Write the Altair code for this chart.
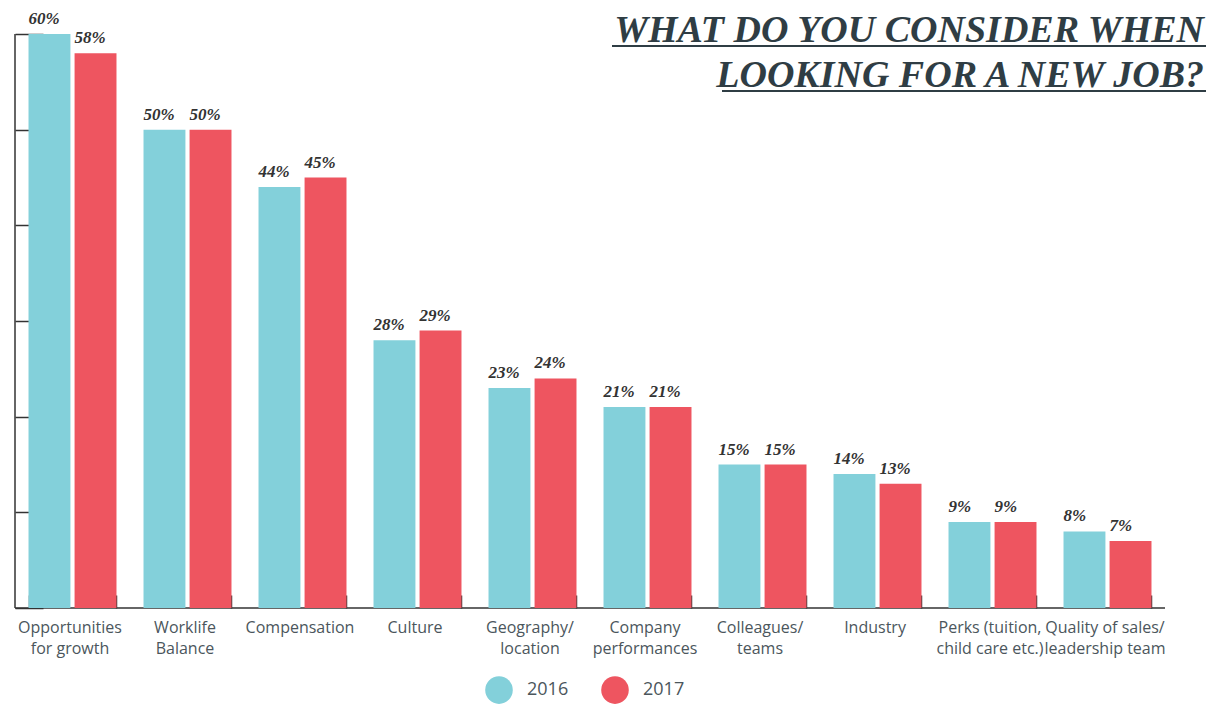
import altair as alt
import pandas as pd

categories = [
    "Opportunities\nfor growth", "Worklife\nBalance", "Compensation", "Culture",
    "Geography/\nlocation", "Company\nperformances", "Colleagues/\nteams",
    "Industry", "Perks (tuition,\nchild care etc.)", "Quality of sales/\nleadership team",
]
years = ["2016", "2017"]
v2016 = [60, 50, 44, 28, 23, 21, 15, 14, 9, 8]
v2017 = [58, 50, 45, 29, 24, 21, 15, 13, 9, 7]
y_ticks = [0, 10, 20, 30, 40, 50, 60]
title_lines = ["WHAT DO YOU CONSIDER WHEN", "LOOKING FOR A NEW JOB?"]

rows = []
for c, a, b in zip(categories, v2016, v2017):
    rows.append({"cat": c, "year": "2016", "value": a, "label": f"{a}%"})
    rows.append({"cat": c, "year": "2017", "value": b, "label": f"{b}%"})
df = pd.DataFrame(rows)

CYAN = "#83d0da"
RED = "#ee5560"
DARK = "#333333"
LABEL = "#4b565c"
TITLE = "#2f3d44"
W, H = 1150, 574

x_enc = alt.X(
    "cat:N", sort=categories,
    scale=alt.Scale(paddingInner=0.235, paddingOuter=0.1175),
    axis=alt.Axis(
        orient="bottom", offset=-13, tickSize=13, tickBand="extent", domain=False,
        labelExpr="split(datum.label, '\\n')", labelFont="Open Sans", labelFontSize=16,
        labelColor=LABEL, labelPadding=11, labelLineHeight=21, labelAngle=0,
        labelOffset=-3,
        tickColor=DARK, tickWidth=1.5, title=None, grid=False, zindex=0,
    ),
)
xo_enc = alt.XOffset("year:N", scale=alt.Scale(paddingInner=0.09))
y_enc = alt.Y(
    "value:Q", scale=alt.Scale(domain=[0, 60], nice=False, zero=True),
    axis=alt.Axis(
        orient="left", offset=-28, tickSize=28, domain=False, labels=False,
        values=y_ticks, tickColor=DARK, tickWidth=1.5, title=None, grid=False, zindex=0,
    ),
)

base = alt.Chart(df)
bars = base.mark_bar().encode(
    x=x_enc, xOffset=xo_enc, y=y_enc,
    color=alt.Color(
        "year:N", scale=alt.Scale(domain=years, range=[CYAN, RED]),
        legend=alt.Legend(
            orient="none", legendX=470, legendY=642, direction="horizontal",
            symbolType="circle", symbolSize=760, symbolStrokeWidth=0, symbolOpacity=1,
            labelFont="Open Sans", labelFontSize=18, labelColor=LABEL, labelOffset=14,
            columnPadding=32, title=None,
        ),
    ),
)
labels = base.mark_text(
    align="left", baseline="alphabetic", dx=-21, dy=-10,
    font="Liberation Serif", fontStyle="italic", fontWeight="bold", fontSize=17, color=DARK,
).encode(x=x_enc, xOffset=xo_enc, y=y_enc, text="label:N")

one = alt.Data(values=[{}])
y_domain = alt.Chart(one).mark_rule(color=DARK, strokeWidth=1.5).encode(
    x=alt.value(0), y=alt.datum(0), y2=alt.datum(60)
)
x_domain = alt.Chart(one).mark_rule(color=DARK, strokeWidth=1.5).encode(
    y=alt.datum(0), x=alt.value(0), x2=alt.value("width")
)

title = alt.Chart(one).mark_text(
    text=title_lines, align="right", baseline="alphabetic", lineHeight=45,
    font="Liberation Serif", fontStyle="italic", fontWeight="bold", fontSize=38, color=TITLE,
).encode(x=alt.value(1189), y=alt.value(8))
ul1 = alt.Chart(one).mark_rule(color=TITLE, strokeWidth=2).encode(
    x=alt.value(597), x2=alt.value(1191), y=alt.value(12)
)
ul2 = alt.Chart(one).mark_rule(color=TITLE, strokeWidth=2).encode(
    x=alt.value(707), x2=alt.value(1191), y=alt.value(57)
)

chart = alt.layer(y_domain, x_domain, bars, labels, title, ul1, ul2, data=df).properties(
    width=W, height=H,
    padding={"left": 7, "top": 26, "right": 42, "bottom": 96},
    autosize=alt.AutoSizeParams(type="none"),
).configure_view(stroke=None)

chart.save("out.html", embed_options={"renderer": "svg", "actions": False})
